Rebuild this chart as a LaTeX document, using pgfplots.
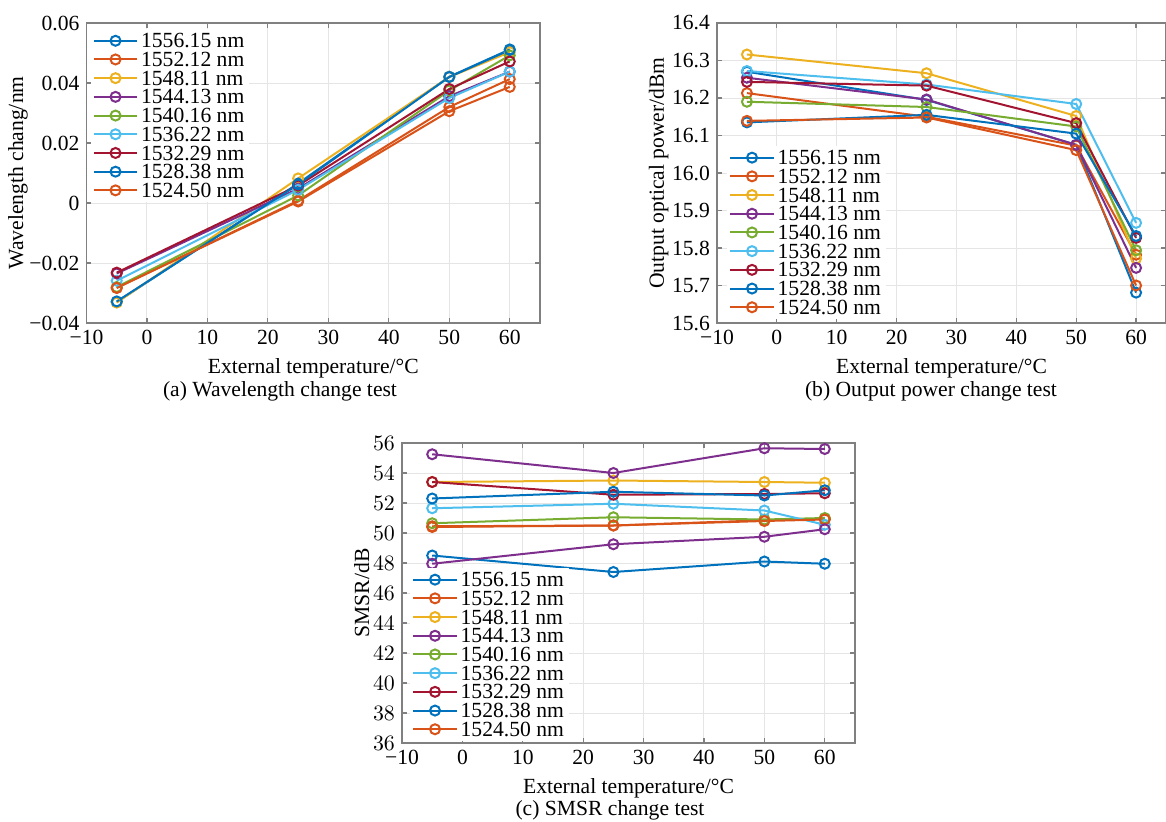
\documentclass[border=0pt]{standalone}
\usepackage{pgfplots}
\pgfplotsset{compat=1.18}
\usepackage{fontspec}
\setmainfont{Liberation Serif}
\definecolor{c1}{rgb}{0,0.447,0.741}
\definecolor{c2}{rgb}{0.85,0.325,0.098}
\definecolor{c3}{rgb}{0.929,0.694,0.125}
\definecolor{c4}{rgb}{0.494,0.184,0.556}
\definecolor{c5}{rgb}{0.466,0.674,0.188}
\definecolor{c6}{rgb}{0.301,0.745,0.933}
\definecolor{c7}{rgb}{0.635,0.078,0.184}
\newcommand{\fs}{\fontsize{10.8}{12}\selectfont}
\pgfplotsset{
  matlab/.style={
    scale only axis,
    xmin=-10, xmax=65,
    xtick={-10,0,10,20,30,40,50,60},
    xticklabels={−10,0,10,20,30,40,50,60},
    scaled y ticks=false,
    grid=major,
    major grid style={draw=black!10, line width=0.5pt},
    axis line style={draw=black!50, line width=0.6pt},
    every tick/.style={draw=black!50, line width=0.6pt},
    tick align=inside,
    major tick length=2.5pt,
    xtick pos=both, ytick pos=both,
    ticklabel style={font=\fs},
    label style={font=\fs},
    ylabel shift=-5pt,
    xlabel={External temperature/°C},
    every axis plot/.append style={line width=1pt, mark=o, mark size=2.5pt, mark options={solid,line width=1pt}},
    legend cell align=left,
    legend style={draw=none, fill=white, font=\fs, inner xsep=1pt, inner ysep=1pt,
      nodes={inner xsep=1.5pt, inner ysep=1pt, text height=7.2pt, text depth=0.15pt}},
    legend image code/.code={\draw[mark repeat=2,mark phase=2,##1] plot coordinates {(0cm,0cm) (0.38cm,0cm) (0.76cm,0cm)};},
  }
}
\begin{document}
\begin{tikzpicture}
\useasboundingbox (0,0) rectangle (583pt,410.5pt);
% ---------- (a)
\begin{axis}[matlab, at={(43.25pt,249pt)}, anchor=south west, width=226.75pt, height=150pt,
  ymin=-0.04, ymax=0.06,
  ytick={-0.04,-0.02,0,0.02,0.04,0.06},
  yticklabels={−0.04,−0.02,0,0.02,0.04,0.06},
  ylabel={Wavelength chang/nm},
  ylabel shift=-6pt,
  legend style={at={(rel axis cs:0,1)}, anchor=north west, xshift=2pt, yshift=-3pt}]
\addplot[c1] coordinates {(-5,-0.0330) (25,0.0065) (50,0.0421) (60,0.0512)};
\addplot[c2] coordinates {(-5,-0.0283) (25,0.0008) (50,0.0320) (60,0.0413)};
\addplot[c3] coordinates {(-5,-0.0332) (25,0.0082) (50,0.0420) (60,0.0503)};
\addplot[c4] coordinates {(-5,-0.0235) (25,0.0048) (50,0.0356) (60,0.0438)};
\addplot[c5] coordinates {(-5,-0.0280) (25,0.0025) (50,0.0375) (60,0.0492)};
\addplot[c6] coordinates {(-5,-0.0259) (25,0.0044) (50,0.0350) (60,0.0438)};
\addplot[c7] coordinates {(-5,-0.0232) (25,0.0058) (50,0.0380) (60,0.0472)};
\addplot[c1] coordinates {(-5,-0.0328) (25,0.0062) (50,0.0420) (60,0.0510)};
\addplot[c2] coordinates {(-5,-0.0283) (25,0.0005) (50,0.0306) (60,0.0387)};
\legend{1556.15 nm,1552.12 nm,1548.11 nm,1544.13 nm,1540.16 nm,1536.22 nm,1532.29 nm,1528.38 nm,1524.50 nm}
\end{axis}
% ---------- (b)
\begin{axis}[matlab, at={(358.5pt,249pt)}, anchor=south west, width=224.5pt, height=150pt,
  ymin=15.6, ymax=16.4,
  ytick={15.6,15.7,15.8,15.9,16.0,16.1,16.2,16.3,16.4},
  yticklabels={15.6,15.7,15.8,15.9,16.0,16.1,16.2,16.3,16.4},
  ylabel={Output optical power/dBm},
  legend style={at={(rel axis cs:0,0)}, anchor=south west, xshift=5pt, yshift=2pt}]
\addplot[c1] coordinates {(-5,16.270) (25,16.195) (50,16.075) (60,15.681)};
\addplot[c2] coordinates {(-5,16.213) (25,16.150) (50,16.073) (60,15.782)};
\addplot[c3] coordinates {(-5,16.316) (25,16.266) (50,16.152) (60,15.772)};
\addplot[c4] coordinates {(-5,16.254) (25,16.196) (50,16.075) (60,15.747)};
\addplot[c5] coordinates {(-5,16.190) (25,16.176) (50,16.124) (60,15.794)};
\addplot[c6] coordinates {(-5,16.272) (25,16.236) (50,16.184) (60,15.867)};
\addplot[c7] coordinates {(-5,16.243) (25,16.233) (50,16.133) (60,15.827)};
\addplot[c1] coordinates {(-5,16.135) (25,16.155) (50,16.105) (60,15.832)};
\addplot[c2] coordinates {(-5,16.139) (25,16.148) (50,16.061) (60,15.700)};
\legend{1556.15 nm,1552.12 nm,1548.11 nm,1544.13 nm,1540.16 nm,1536.22 nm,1532.29 nm,1528.38 nm,1524.50 nm}
\end{axis}
% ---------- (c)
\begin{axis}[matlab, at={(201pt,39pt)}, anchor=south west, width=226.5pt, height=150pt,
  ymin=36, ymax=56,
  ytick={36,38,...,56},
  ylabel={SMSR/dB},
  legend style={at={(rel axis cs:0,0)}, anchor=south west, xshift=4pt, yshift=1pt}]
\addplot[c1] coordinates {(-5,48.5) (25,47.4) (50,48.1) (60,47.95)};
\addplot[c2] coordinates {(-5,50.45) (25,50.5) (50,50.85) (60,50.95)};
\addplot[c3] coordinates {(-5,53.4) (25,53.5) (50,53.4) (60,53.35)};
\addplot[c4] coordinates {(-5,55.25) (25,54.0) (50,55.65) (60,55.6)};
\addplot[c5] coordinates {(-5,50.65) (25,51.05) (50,50.9) (60,51.0)};
\addplot[c6] coordinates {(-5,51.65) (25,51.95) (50,51.5) (60,50.55)};
\addplot[c7] coordinates {(-5,53.4) (25,52.55) (50,52.6) (60,52.65)};
\addplot[c1] coordinates {(-5,52.3) (25,52.75) (50,52.5) (60,52.85)};
\addplot[c2] coordinates {(-5,50.4) (25,50.5) (50,50.8) (60,50.9)};
\addplot[c4, forget plot] coordinates {(-5,47.95) (25,49.25) (50,49.75) (60,50.25)};
\legend{1556.15 nm,1552.12 nm,1548.11 nm,1544.13 nm,1540.16 nm,1536.22 nm,1532.29 nm,1528.38 nm,1524.50 nm}
\end{axis}
\node[font=\fs] at (140pt,215pt) {(a) Wavelength change test};
\node[font=\fs] at (465.5pt,215pt) {(b) Output power change test};
\node[font=\fs] at (305pt,5.5pt) {(c) SMSR change test};
\end{tikzpicture}
\end{document}
